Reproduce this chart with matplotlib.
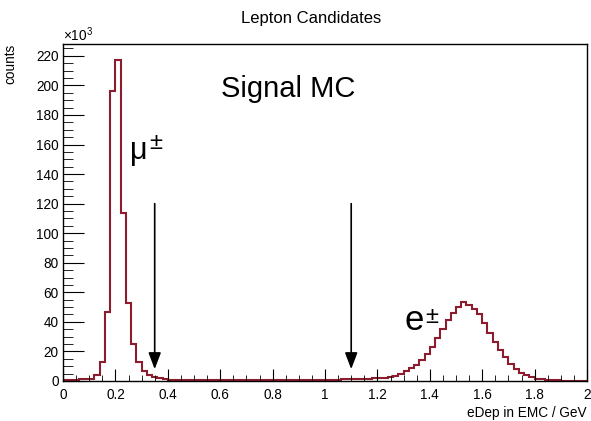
import numpy as np
import matplotlib
matplotlib.use("Agg")
import matplotlib.pyplot as plt

plt.rcParams['font.family'] = ['Liberation Sans', 'DejaVu Sans']
plt.rcParams['mathtext.fontset'] = 'custom'
plt.rcParams['mathtext.rm'] = 'Liberation Sans'
plt.rcParams['mathtext.it'] = 'Liberation Sans:italic'

# histogram: 100 bins from 0 to 2 GeV, counts in units of 10^3
x_lo, x_hi, n_bins = 0.0, 2.0, 100
counts = [
    # 0.00 - 0.10
    0.9, 1.0, 1.0, 1.1, 1.2,
    # 0.10 - 0.50
    1.6, 3.8, 12.6, 46.5, 196.0, 216.9, 114.0, 52.6, 25.0, 12.6,
    6.8, 4.2, 2.7, 1.8, 1.3, 1.0, 0.8, 0.7, 0.6, 0.55,
    # 0.50 - 0.90
    0.5, 0.5, 0.45, 0.45, 0.45, 0.45, 0.45, 0.45, 0.45, 0.45,
    0.45, 0.45, 0.5, 0.5, 0.5, 0.5, 0.55, 0.55, 0.6, 0.6,
    # 0.90 - 1.10
    0.65, 0.7, 0.75, 0.8, 0.85, 0.9, 0.95, 1.0, 1.05, 1.1,
    # 1.10 - 1.28
    1.2, 1.3, 1.4, 1.5, 1.7, 1.9, 2.2, 2.7, 3.4,
    # 1.28 - 2.00
    4.6, 6.5, 8.5, 11.0, 14.0, 18.0, 23.0, 29.0, 35.5, 41.0,
    46.0, 50.3, 53.3, 51.5, 48.7, 45.0, 39.0, 32.7, 26.6, 21.0,
    16.0, 11.5, 8.0, 5.6, 4.1, 2.7, 1.6, 1.1, 0.7, 0.5,
    0.4, 0.3, 0.25, 0.2, 0.2, 0.15,
]
cut_positions = [0.35, 1.1]
arrow_top, arrow_tip = 120.0, 8.0

fig = plt.figure(figsize=(5.91, 4.21), dpi=100)
ax = fig.add_axes([63/591, 40/421, 524/591, 337/421])

edges = np.linspace(x_lo, x_hi, n_bins + 1)
ax.stairs(counts, edges, color='#8c1c2e', lw=1.5)

for xc in cut_positions:
    ax.annotate('', xy=(xc, arrow_tip), xytext=(xc, arrow_top),
                arrowprops=dict(arrowstyle='-|>,head_length=1.0,head_width=0.38',
                                color='black', lw=1.2, shrinkA=0, shrinkB=0))

ax.set_xlim(0, 2)
ax.set_ylim(0, 228)
ax.set_xticks(np.arange(0, 2.01, 0.2))
ax.set_xticklabels(['0', '0.2', '0.4', '0.6', '0.8', '1', '1.2', '1.4', '1.6', '1.8', '2'])
ax.set_xticks(np.arange(0, 2.01, 0.05), minor=True)
ax.set_yticks(np.arange(0, 221, 20))
ax.set_yticks(np.arange(0, 226, 5), minor=True)
ax.tick_params(which='both', direction='in', labelsize=9.8, top=False, right=False)
ax.tick_params(axis='x', which='major', length=9, pad=5)
ax.tick_params(axis='x', which='minor', length=4.5)
ax.tick_params(axis='y', which='major', length=15, pad=3)
ax.tick_params(axis='y', which='minor', length=7.5)
for s in ax.spines.values():
    s.set_linewidth(1.0)

ax.text(0.0, 1.0, r'$\times 10^{3}$', transform=ax.transAxes, ha='left', va='bottom', fontsize=9.8)
ax.text(-0.101, 1.0, 'counts', transform=ax.transAxes, rotation=90, ha='center', va='top', fontsize=9.8)
ax.text(1.0, -0.095, 'eDep in EMC / GeV', transform=ax.transAxes, ha='right', va='center', fontsize=9.8)
fig.text(311/591, 1 - 18/421, 'Lepton Candidates', ha='center', va='center', fontsize=12)

ax.text(0.603, 192, 'Signal MC', fontsize=21, ha='left', va='baseline')
# particle labels: letter plus a large raised "±"
ax.text(0.255, 150, 'μ', fontsize=22, ha='left', va='baseline')
ax.text(0.330, 161, '±', fontsize=17, ha='left', va='center')
ax.text(1.305, 34.5, 'e', fontsize=25, ha='left', va='baseline')
ax.text(1.382, 43.5, '±', fontsize=17, ha='left', va='center')

fig.savefig('out.png', dpi=100)
